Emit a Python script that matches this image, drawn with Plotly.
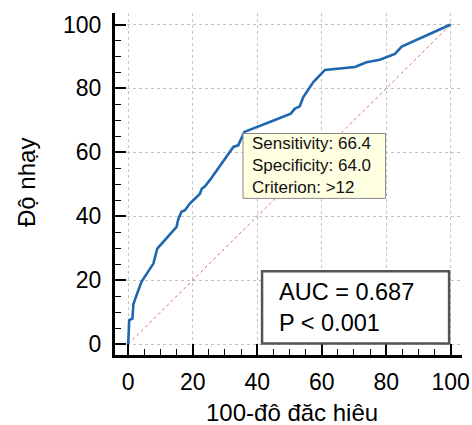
import plotly.graph_objects as go

# ROC curve points (100 - specificity, sensitivity)
fpr = [0, 0.3, 1.3, 1.6, 2.4, 4.1, 7.8, 8.5, 9.0, 15.0, 15.5, 16.5, 17.6, 19.1,
       22.2, 22.8, 23.8, 25.3, 32.6, 34.1, 36.0, 43.9, 50.4, 51.7, 53.2, 54.3,
       57.4, 61.0, 70.3, 73.9, 78.0, 82.7, 84.8, 100]
tpr = [0, 7.5, 8.0, 12.5, 14.8, 19.5, 25.2, 27.8, 29.9, 36.7, 39.0, 41.4, 41.9, 44.0,
       47.0, 48.6, 49.4, 51.3, 61.7, 62.2, 66.4, 69.5, 72.1, 73.7, 74.4, 77.3,
       82.0, 85.8, 86.7, 88.2, 89.0, 90.8, 93.1, 100]
diag_x = [0, 100]
diag_y = [0, 100]
tick_vals = [0, 20, 40, 60, 80, 100]

crit_x, crit_y = 36.0, 66.4
crit_lines = ["Sensitivity: 66.4", "Specificity: 64.0", "Criterion: >12"]
auc_lines = ["AUC = 0.687", "P &lt; 0.001"]

FONT = "Liberation Sans, Arial, sans-serif"

fig = go.Figure()
fig.add_trace(go.Scatter(x=diag_x, y=diag_y, mode="lines",
                         line=dict(color="#d9686b", width=1, dash="dot"),
                         hoverinfo="skip", showlegend=False))
fig.add_trace(go.Scatter(x=fpr, y=tpr, mode="lines",
                         line=dict(color="#1f66b0", width=2.6),
                         showlegend=False))

axis_common = dict(
    showline=True, linecolor="black", linewidth=3,
    ticks="inside", ticklen=11, tickwidth=1.5, tickcolor="black",
    tickvals=tick_vals,
    minor=dict(ticks="inside", ticklen=6, tickwidth=1.2, tickcolor="black",
               dtick=5, tick0=0, showgrid=False),
    showgrid=True, gridcolor="#c4c4c4", griddash="dot", gridwidth=1,
    zeroline=False, automargin=False,
    tickfont=dict(family=FONT, size=23, color="black"),
)

fig.update_xaxes(range=[-4.1, 103.5], ticklabelstandoff=4, **axis_common)
fig.update_yaxes(range=[-3.4, 103.6], ticklabelstandoff=6, **axis_common)

# criterion tooltip box
fig.add_shape(type="rect", xref="x", yref="y", x0=35.6, x1=79.8, y0=45.6, y1=65.9,
              fillcolor="#ffffe1", line=dict(color="#8a8a8a", width=1), layer="above")
fig.add_annotation(xref="x", yref="y", x=37.7, y=56.0, xanchor="left", yanchor="middle",
                   text="<br>".join(crit_lines), align="left", showarrow=False,
                   font=dict(family=FONT, size=17, color="#111111"))

# AUC box
fig.add_shape(type="rect", xref="x", yref="y", x0=41.5, x1=99.5, y0=0.2, y1=22.8,
              fillcolor="white", line=dict(color="#555555", width=2.5), layer="above")
fig.add_annotation(xref="x", yref="y", x=46.2, y=11.5, xanchor="left", yanchor="middle",
                   text="<br>".join(auc_lines), align="left", showarrow=False,
                   font=dict(family=FONT, size=23.5, color="black"))

# axis titles
fig.add_annotation(xref="paper", yref="paper", x=(292 - 115) / 347, y=(355 - 412) / 342,
                   xanchor="center", yanchor="middle", showarrow=False,
                   text="100-đô đăc hiêu", font=dict(family=FONT, size=24, color="black"))
fig.add_annotation(xref="paper", yref="paper", x=(26 - 115) / 347, y=(355 - 183) / 342,
                   xanchor="center", yanchor="middle", showarrow=False, textangle=-90,
                   text="Độ nhạy", font=dict(family=FONT, size=24, color="black"))

fig.update_layout(
    width=472, height=425,
    margin=dict(l=115, r=10, t=13, b=70, autoexpand=False),
    paper_bgcolor="white", plot_bgcolor="white",
    font=dict(family=FONT, color="black"),
)

fig.write_html("out.html", config={"displayModeBar": False},
               post_script="document.body.style.margin='0';document.body.style.overflow='hidden';")
